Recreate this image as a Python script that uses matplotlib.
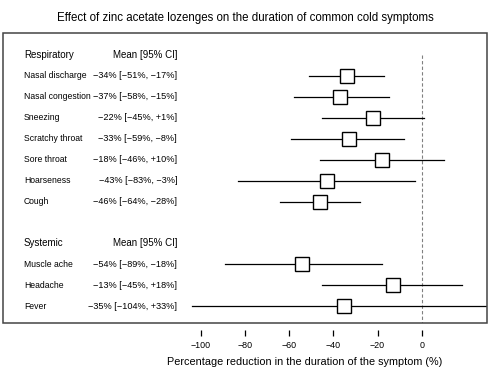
import matplotlib
matplotlib.use("Agg")
import matplotlib.pyplot as plt
import matplotlib.transforms as mtransforms
from matplotlib.patches import Rectangle

plt.rcParams['font.family'] = ['Liberation Sans', 'DejaVu Sans']

resp_names = ["Nasal discharge", "Nasal congestion", "Sneezing", "Scratchy throat",
              "Sore throat", "Hoarseness", "Cough"]
resp_mean = [-34, -37, -22, -33, -18, -43, -46]
resp_lo = [-51, -58, -45, -59, -46, -83, -64]
resp_hi = [-17, -15, 1, -8, 10, -3, -28]

sys_names = ["Muscle ache", "Headache", "Fever"]
sys_mean = [-54, -13, -35]
sys_lo = [-89, -45, -104]
sys_hi = [-18, 18, 33]

xticks = [-100, -80, -60, -40, -20, 0]


def fmt(v):
    if v > 0:
        return "+%d%%" % v
    return "\u2212%d%%" % abs(v)


fig = plt.figure(figsize=(4.9, 3.76), dpi=100)
ax = fig.add_axes([3 / 490, 53 / 376, 484 / 490, 290 / 376])
ax.set_xlim(-189.5, 29.5)
ax.set_ylim(12.8, -1.05)

trans = mtransforms.blended_transform_factory(ax.transAxes, ax.transData)
fs = 6.2

groups = [("Respiratory", resp_names, resp_mean, resp_lo, resp_hi, 0),
          ("Systemic", sys_names, sys_mean, sys_lo, sys_hi, 9)]

for title, names, mean, lo, hi, start in groups:
    ax.text(0.043, start, title, transform=trans, ha='left', va='center', fontsize=7.0)
    ax.text(0.36, start, "Mean [95% CI]", transform=trans, ha='right', va='center', fontsize=7.0)
    for i, name in enumerate(names):
        y = start + 1 + i
        ax.text(0.043, y, name, transform=trans, ha='left', va='center', fontsize=fs)
        ax.text(0.36, y, "%s [%s, %s]" % (fmt(mean[i]), fmt(lo[i]), fmt(hi[i])),
                transform=trans, ha='right', va='center', fontsize=6.6)
        ax.plot([lo[i], hi[i]], [y, y], color='black', lw=0.9, zorder=2)
        ax.plot(mean[i], y, marker='s', ms=10.5, mfc='white', mec='black', mew=1.0, zorder=3)

ax.plot([0, 0], [0, 12.8], color='gray', lw=0.8, ls=(0, (3, 2)), zorder=1)

# detached tick axis below the frame
ax.spines['bottom'].set_position(('outward', 5))
ax.set_xticks(xticks)
ax.set_xticklabels([fmt(t).replace('%', '') if t != 0 else "0" for t in xticks])
ax.tick_params(axis='x', direction='out', length=4, width=0.9, pad=4, labelsize=6.4)
ax.set_yticks([])
for s in ax.spines.values():
    s.set_visible(False)
ax.add_patch(Rectangle((0, 0), 1, 1, transform=ax.transAxes, fill=False,
                       edgecolor='#444444', lw=1.1, clip_on=False, zorder=5))

ax.text(-53, -0.134, "Percentage reduction in the duration of the symptom (%)",
        transform=mtransforms.blended_transform_factory(ax.transData, ax.transAxes),
        ha='center', va='center', fontsize=7.8)
fig.text(0.5, 1 - 18 / 376, "Effect of zinc acetate lozenges on the duration of common cold symptoms",
         ha='center', va='center', fontsize=8.3)

fig.savefig("out.png", dpi=100)
